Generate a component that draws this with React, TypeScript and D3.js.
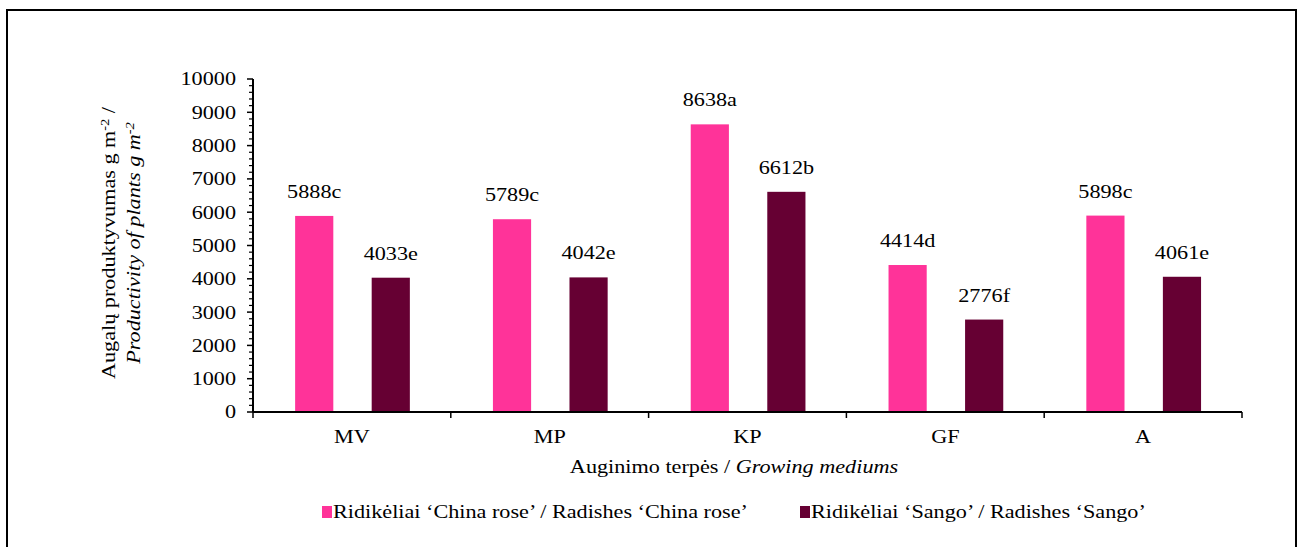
import React from "react";
import * as d3 from "d3";

const categories = ["MV", "MP", "KP", "GF", "A"];
const chinaRose = [5888, 5789, 8638, 4414, 5898];
const sango = [4033, 4042, 6612, 2776, 4061];
const chinaLetters = ["c", "c", "a", "d", "c"];
const sangoLetters = ["e", "e", "b", "f", "e"];
const yTicks = [0, 1000, 2000, 3000, 4000, 5000, 6000, 7000, 8000, 9000, 10000];

const seriesNames = [
  "Ridikėliai ‘China rose’ / Radishes ‘China rose’",
  "Ridikėliai ‘Sango’ / Radishes ‘Sango’",
];
const colors = ["#FF3399", "#660033"];

const W = 1304;
const H = 547;
const plot = { left: 253, right: 1242, top: 79, bottom: 412 };
const FONT = "Liberation Serif";
const FS = 18.5;
const SX = 1.2; // horizontal glyph stretch

type TProps = {
  x: number;
  y: number;
  anchor?: "start" | "middle" | "end";
  rotate?: boolean;
  italic?: boolean;
  dy?: string;
  children: React.ReactNode;
};

function T({ x, y, anchor = "start", rotate = false, italic = false, dy, children }: TProps) {
  return (
    <text
      transform={`translate(${x},${y})${rotate ? " rotate(-90)" : ""} scale(${SX},1)`}
      textAnchor={anchor}
      fontSize={FS}
      fontStyle={italic ? "italic" : "normal"}
      dy={dy}
      fill="#000"
      style={{ fontFamily: FONT }}
    >
      {children}
    </text>
  );
}

export default function App() {
  const x = d3.scaleBand<string>().domain(categories).range([plot.left, plot.right]);
  const y = d3.scaleLinear().domain([0, 10000]).range([plot.bottom, plot.top]);
  const bw = x.bandwidth();
  const barW = bw * 0.193;
  const offsets = [bw * 0.213, bw * 0.6];
  const minor = d3.range(0, 10001, 200).filter((v) => v % 1000 !== 0);
  const series = [
    { vals: chinaRose, letters: chinaLetters },
    { vals: sango, letters: sangoLetters },
  ];

  return (
    <svg
      width={W}
      height={H}
      style={{ position: "absolute", left: 0, top: 0, background: "#fff", fontFamily: FONT }}
    >
      <rect x={7} y={10} width={1289} height={560} fill="#fff" stroke="#000" strokeWidth={2} />

      {series.map((s, si) =>
        categories.map((c, i) => {
          const bx = (x(c) as number) + offsets[si];
          return (
            <g key={`${si}-${c}`}>
              <rect
                x={bx}
                y={y(s.vals[i])}
                width={barW}
                height={y(0) - y(s.vals[i])}
                fill={colors[si]}
              />
              <T x={bx + barW / 2} y={y(s.vals[i]) - 18} anchor="middle">
                {`${s.vals[i]}${s.letters[i]}`}
              </T>
            </g>
          );
        })
      )}

      {/* y axis */}
      <line x1={plot.left} x2={plot.left} y1={plot.top} y2={plot.bottom} stroke="#000" strokeWidth={2} />
      {yTicks.map((t) => (
        <g key={t}>
          <line x1={plot.left - 6} x2={plot.left} y1={y(t)} y2={y(t)} stroke="#000" strokeWidth={1.5} />
          <T x={plot.left - 17} y={y(t)} dy="0.35em" anchor="end">
            {t}
          </T>
        </g>
      ))}
      {minor.map((t) => (
        <line key={t} x1={plot.left - 4} x2={plot.left} y1={y(t)} y2={y(t)} stroke="#000" strokeWidth={1.2} />
      ))}

      {/* x axis */}
      <line x1={plot.left} x2={plot.right} y1={plot.bottom} y2={plot.bottom} stroke="#000" strokeWidth={2} />
      {[...categories.map((c) => x(c) as number), plot.right].map((px, i) => (
        <line key={i} x1={px} x2={px} y1={plot.bottom} y2={plot.bottom + 6} stroke="#000" strokeWidth={1.5} />
      ))}
      {categories.map((c) => (
        <T key={c} x={(x(c) as number) + bw / 2} y={443} anchor="middle">
          {c}
        </T>
      ))}

      <T x={734} y={473} anchor="middle">
        Auginimo terpės / <tspan fontStyle="italic">Growing mediums</tspan>
      </T>

      {/* y title */}
      <T x={115} y={243} anchor="middle" rotate>
        Augalų produktyvumas g m
        <tspan baselineShift="super" fontSize={12}>-2</tspan> /
      </T>
      <T x={140} y={243} anchor="middle" rotate italic>
        Productivity of plants g m
        <tspan baselineShift="super" fontSize={12}>-2</tspan>
      </T>

      {/* legend */}
      <rect x={322} y={506} width={10} height={12} fill={colors[0]} />
      <T x={333} y={518}>{seriesNames[0]}</T>
      <rect x={800} y={506} width={10} height={12} fill={colors[1]} />
      <T x={811} y={518}>{seriesNames[1]}</T>
    </svg>
  );
}
